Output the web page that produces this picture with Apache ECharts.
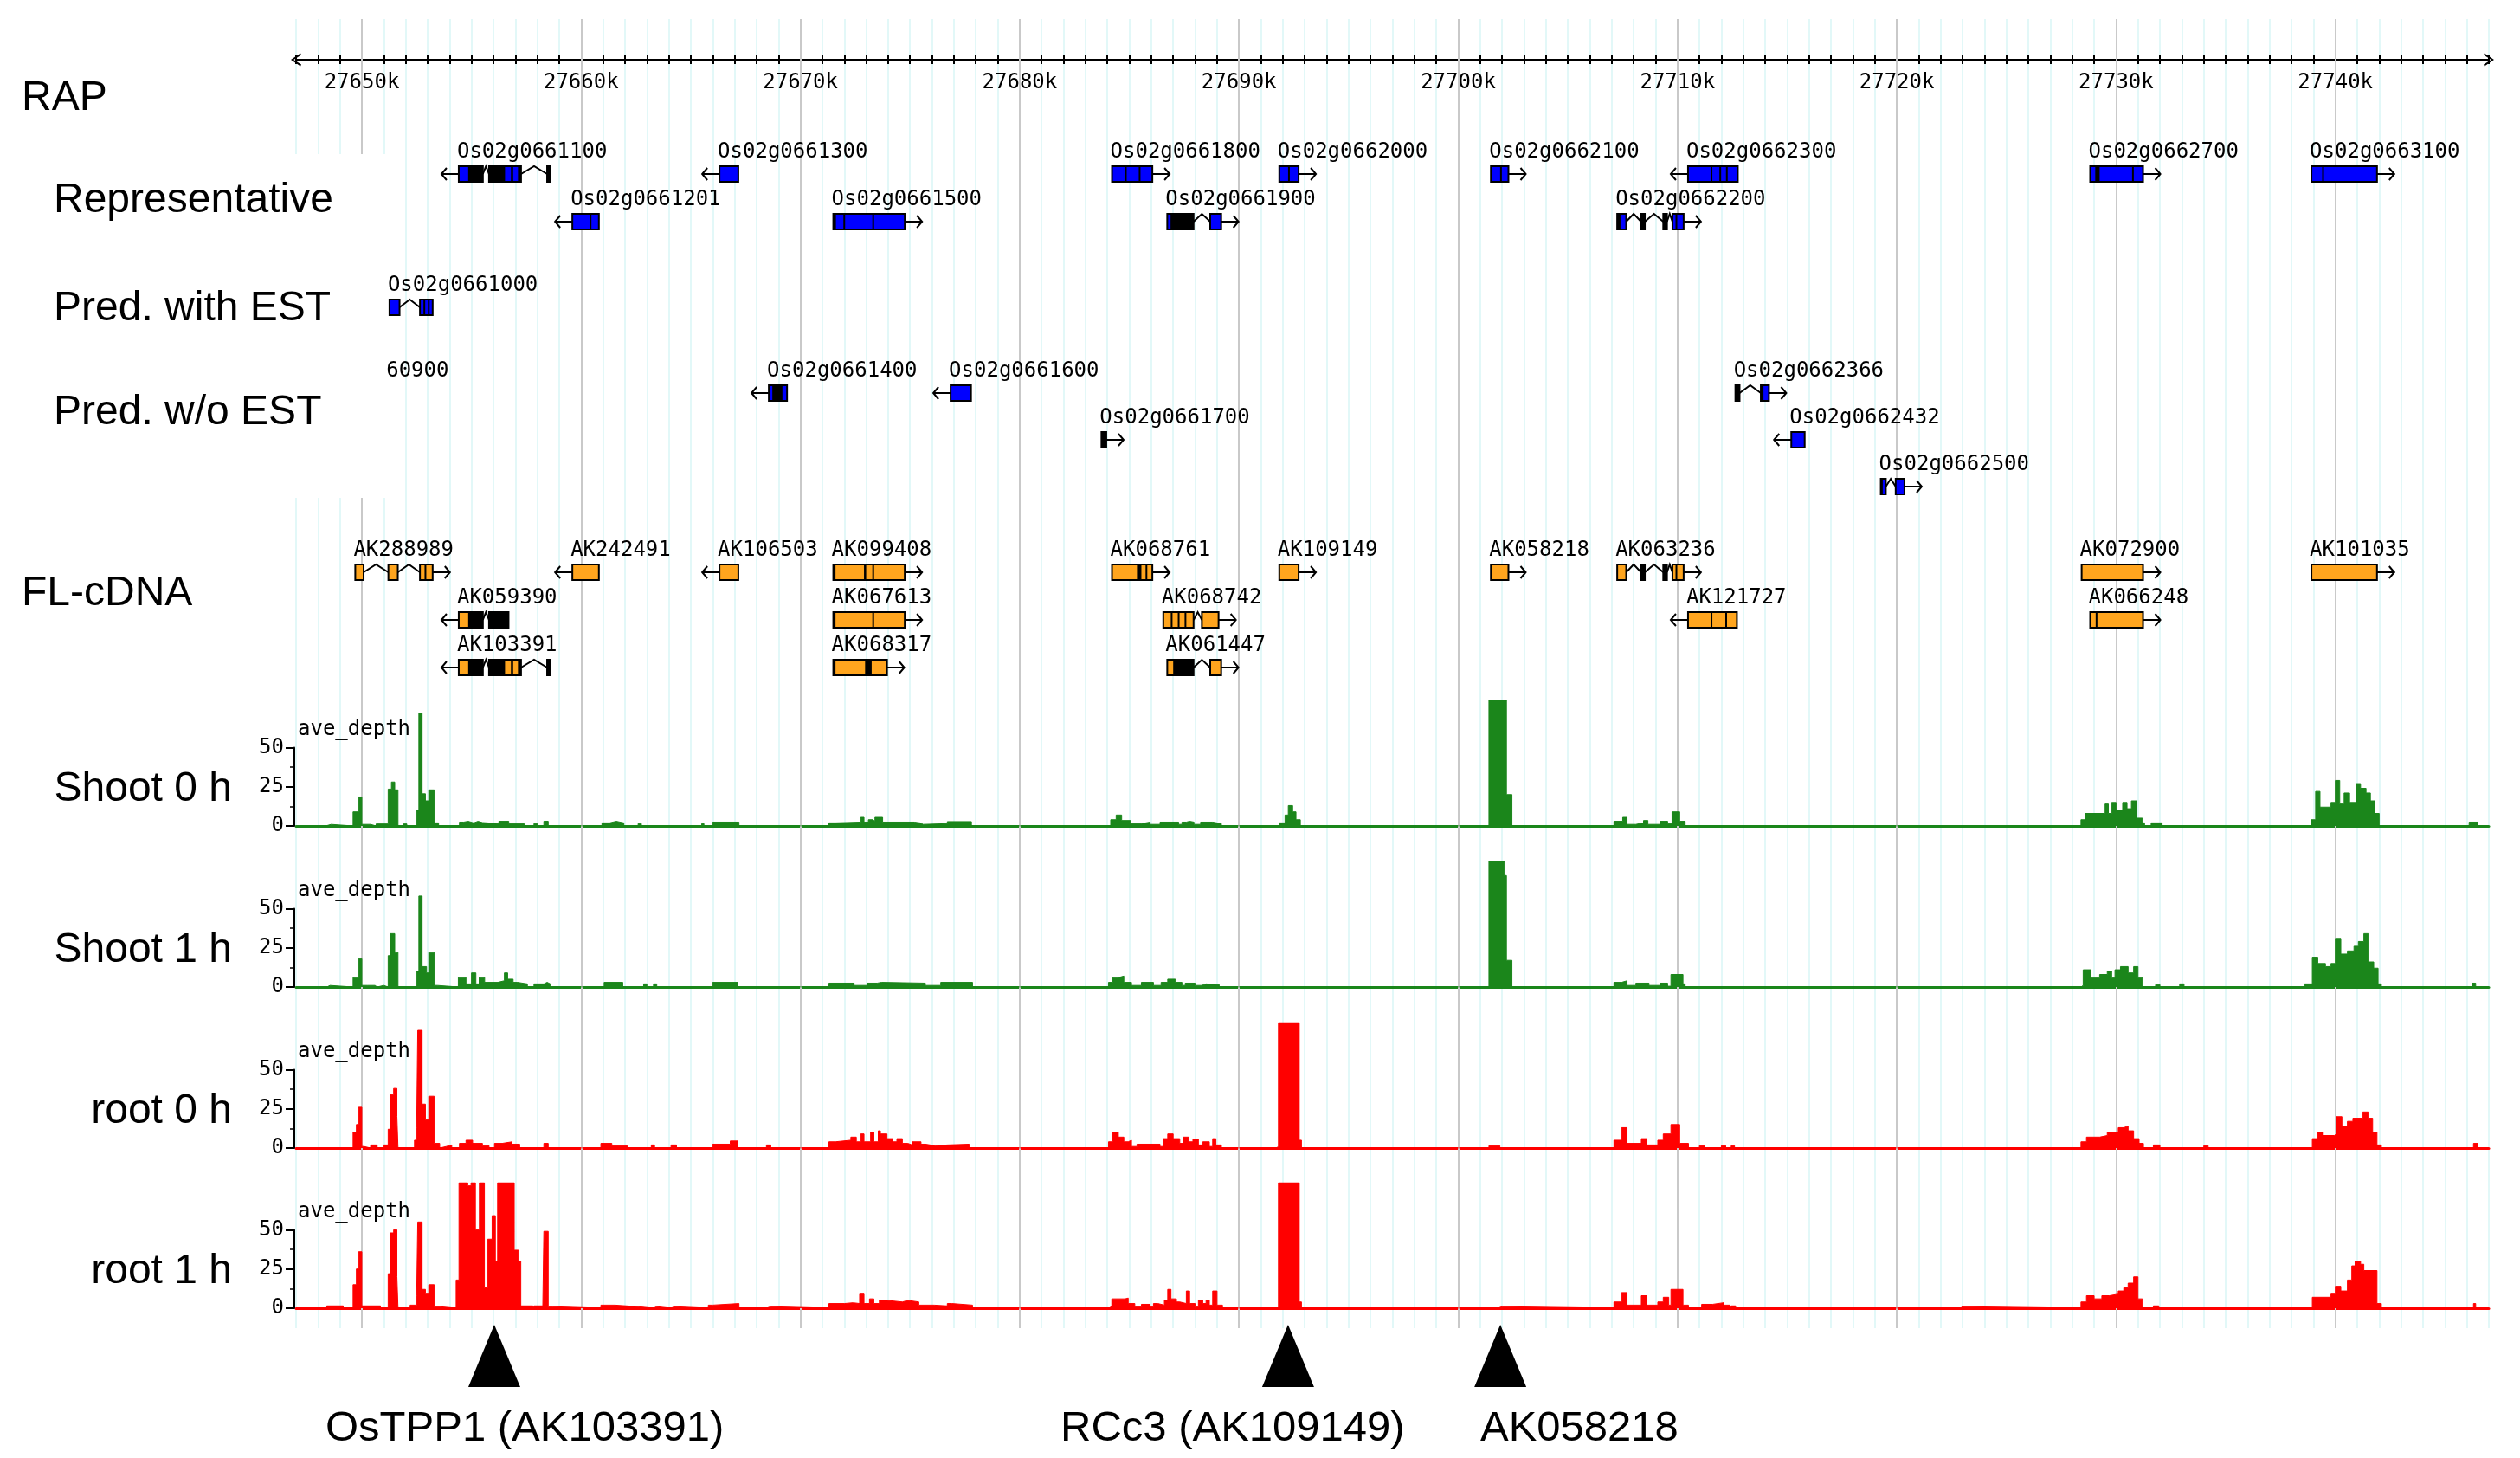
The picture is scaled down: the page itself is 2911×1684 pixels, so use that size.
<!DOCTYPE html>
<html><head><meta charset="utf-8">
<script src="https://cdn.jsdelivr.net/npm/echarts@6/dist/echarts.min.js"></script>
<style>html,body{margin:0;padding:0;background:#fff}#c{width:2911px;height:1684px}</style>
</head><body><div id="c"></div>
<script>
// ================= DATA =================
const viewStart = 27647, viewEnd = 27747;           // kb shown
const majorStep = 10;                                // kb between labelled ticks
const rulerTicks = [];
for (let k = viewStart; k <= viewEnd; k++) rulerTicks.push(k);

// genes: n name, s strand, r sub-row, ex exons [start,end] kb, dk dark (CDS) parts, ln divider lines, at label anchor
const repGenes = [
  {n:'Os02g0661100', s:-1, r:0, ex:[[27654.42,27655.52],[27655.80,27657.26],[27658.45,27658.57]], dk:[[27654.85,27655.52],[27655.80,27656.53],[27656.80,27656.90],[27657.12,27657.26],[27658.45,27658.57]]},
  {n:'Os02g0661300', s:-1, r:0, ex:[[27666.31,27667.17]]},
  {n:'Os02g0661800', s:1, r:0, ex:[[27684.21,27686.05]], ln:[27684.84,27685.47]},
  {n:'Os02g0662000', s:1, r:0, ex:[[27691.84,27692.72]], ln:[27692.28]},
  {n:'Os02g0662100', s:1, r:0, ex:[[27701.49,27702.29]], ln:[27701.95]},
  {n:'Os02g0662300', s:-1, r:0, ex:[[27710.48,27712.75]], ln:[27711.55,27711.95,27712.25]},
  {n:'Os02g0662700', s:1, r:0, ex:[[27728.82,27731.23]], dk:[[27729.05,27729.25]], ln:[27730.77]},
  {n:'Os02g0663100', s:1, r:0, ex:[[27738.91,27741.90]], ln:[27739.44]},
  {n:'Os02g0661201', s:-1, r:1, ex:[[27659.60,27660.81]], ln:[27660.43]},
  {n:'Os02g0661500', s:1, r:1, ex:[[27671.50,27674.76]], dk:[[27671.50,27671.62]], ln:[27672.0,27673.32]},
  {n:'Os02g0661900', s:1, r:1, ex:[[27686.73,27687.93],[27688.69,27689.19]], dk:[[27686.88,27687.93]]},
  {n:'Os02g0662200', s:1, r:1, ex:[[27707.25,27707.66],[27708.34,27708.51],[27709.35,27709.52],[27709.77,27710.28]], dk:[[27707.25,27707.40],[27708.34,27708.51],[27709.35,27709.52]], ln:[27709.95]}
];
const estGenes = [
  {n:'Os02g0661000', s:0, r:0, ex:[[27651.26,27651.72],[27652.65,27653.23]], ln:[27652.85,27653.05]}
];
const noEstGenes = [
  {n:'Os02g0660900', s:0, r:0, ex:[], at:27647.2},
  {n:'Os02g0661400', s:-1, r:0, ex:[[27668.56,27669.39]], dk:[[27668.72,27669.18]]},
  {n:'Os02g0661600', s:-1, r:0, ex:[[27676.85,27677.78]]},
  {n:'Os02g0662366', s:1, r:0, ex:[[27712.64,27712.83],[27713.80,27714.17]], dk:[[27712.64,27712.83],[27713.80,27713.92]]},
  {n:'Os02g0661700', s:1, r:1, ex:[[27683.73,27683.95]], dk:[[27683.73,27683.95]]},
  {n:'Os02g0662432', s:-1, r:1, ex:[[27715.19,27715.80]]},
  {n:'Os02g0662500', s:1, r:2, ex:[[27719.27,27719.50],[27719.95,27720.35]], dk:[[27719.27,27719.36]]}
];
const flGenes = [
  {n:'AK288989', s:1, r:0, ex:[[27649.70,27650.08],[27651.21,27651.64],[27652.65,27653.23]], ln:[27652.90]},
  {n:'AK242491', s:-1, r:0, ex:[[27659.60,27660.81]]},
  {n:'AK106503', s:-1, r:0, ex:[[27666.31,27667.17]]},
  {n:'AK099408', s:1, r:0, ex:[[27671.50,27674.76]], dk:[[27671.50,27671.60],[27672.90,27673.00]], ln:[27673.32]},
  {n:'AK068761', s:1, r:0, ex:[[27684.21,27686.05]], dk:[[27685.35,27685.55]], ln:[27685.78]},
  {n:'AK109149', s:1, r:0, ex:[[27691.84,27692.72]]},
  {n:'AK058218', s:1, r:0, ex:[[27701.49,27702.29]]},
  {n:'AK063236', s:1, r:0, ex:[[27707.25,27707.66],[27708.34,27708.51],[27709.35,27709.52],[27709.77,27710.28]], dk:[[27708.34,27708.51],[27709.35,27709.52]], ln:[27709.95]},
  {n:'AK072900', s:1, r:0, ex:[[27728.43,27731.23]]},
  {n:'AK101035', s:1, r:0, ex:[[27738.91,27741.90]]},
  {n:'AK059390', s:-1, r:1, ex:[[27654.42,27655.52],[27655.80,27656.69]], dk:[[27654.85,27655.52],[27655.80,27656.69]]},
  {n:'AK067613', s:1, r:1, ex:[[27671.50,27674.76]], dk:[[27671.50,27671.60]], ln:[27673.32]},
  {n:'AK068742', s:1, r:1, ex:[[27686.55,27687.93],[27688.31,27689.07]], ln:[27686.93,27687.25,27687.56]},
  {n:'AK121727', s:-1, r:1, ex:[[27710.48,27712.71]], ln:[27711.55,27712.22]},
  {n:'AK066248', s:1, r:1, ex:[[27728.82,27731.23]], ln:[27729.11]},
  {n:'AK103391', s:-1, r:2, ex:[[27654.42,27655.52],[27655.80,27657.26],[27658.45,27658.57]], dk:[[27654.85,27655.52],[27655.80,27656.53],[27656.80,27656.90],[27657.12,27657.26],[27658.45,27658.57]]},
  {n:'AK068317', s:1, r:2, ex:[[27671.50,27673.95]], dk:[[27671.50,27671.60],[27672.95,27673.25]]},
  {n:'AK061447', s:1, r:2, ex:[[27686.73,27687.93],[27688.69,27689.19]], dk:[[27687.00,27687.93]]}
];

// coverage (ave_depth): [position kb, value held until next position]
const shoot0h = [
  [27648.35,1],[27648.6,0],
  [27649.6,9],[27649.85,18.5],[27650.0,1],[27650.4,0],
  [27650.65,1.3],[27651.2,23.5],[27651.35,28],[27651.5,23],[27651.65,0],
  [27651.9,1.3],[27652.05,0],
  [27652.5,10],[27652.6,72],[27652.75,20.5],[27652.9,16],[27653.05,23],[27653.3,2],[27653.5,0],
  [27654.45,2.5],[27654.65,3],[27654.85,2],[27655.1,3],[27655.3,2.2],[27655.5,1.5],[27656.25,3],[27656.7,1.5],[27657.4,0],
  [27657.85,1.5],[27658.0,0],[27658.3,3],[27658.5,0],
  [27660.95,2],[27661.3,3],[27661.6,2],[27661.95,0],
  [27662.6,1.5],[27662.75,0],[27665.5,1.5],[27665.6,0],[27666.0,2.5],[27667.2,0],
  [27671.3,2],[27671.6,2.5],[27672.75,5.5],[27672.9,2.5],[27673.1,4],[27673.3,3],[27673.4,5.5],[27673.75,2.5],[27675.2,2],[27675.45,1],[27675.6,1.5],[27676.7,2.8],[27677.8,0],
  [27684.15,4],[27684.4,7],[27684.65,3.5],[27685.05,1.5],[27685.55,2.5],[27685.95,1],[27686.4,2.5],[27687.25,1],[27687.4,2.5],[27687.6,3],[27687.75,2.5],[27687.95,1],[27688.25,2.5],[27688.8,1.5],[27689.2,0],
  [27691.85,2],[27692.1,7],[27692.25,13],[27692.45,9],[27692.6,4],[27692.8,0],
  [27701.4,80],[27702.2,20],[27702.45,0],
  [27707.1,3],[27707.5,5.5],[27707.7,1],[27708.1,2],[27708.45,3.5],[27708.65,1],[27709.2,3],[27709.55,1.5],[27709.75,9],[27710.1,3],[27710.35,0],
  [27728.4,4],[27728.6,8],[27729.5,14],[27729.65,8],[27729.8,15],[27730.0,10],[27730.3,15],[27730.5,11],[27730.7,16],[27730.95,5],[27731.2,2],[27731.3,0],[27731.6,2],[27732.1,0],
  [27738.9,4],[27739.1,22],[27739.3,12],[27739.8,15],[27740.0,29],[27740.2,14],[27740.4,21],[27740.65,15],[27740.95,27],[27741.15,24],[27741.4,21],[27741.6,16],[27741.8,8],[27742.0,0],
  [27746.1,2.5],[27746.5,0]
];
const shoot1h = [
  [27648.4,1],[27648.55,0],
  [27649.6,6],[27649.85,18],[27650.0,1],[27650.25,0],[27650.3,1],[27650.6,0],[27650.7,1],[27651.0,0],
  [27651.2,20],[27651.3,34],[27651.5,22],[27651.65,0],
  [27652.5,10],[27652.6,58],[27652.75,13],[27652.95,9],[27653.05,22],[27653.3,1],[27653.45,0],
  [27654.4,6],[27654.75,2],[27655.0,9],[27655.2,2],[27655.35,6],[27655.6,3],[27656.2,4],[27656.5,9],[27656.65,5],[27656.9,3],[27657.1,2],[27657.55,0],
  [27657.85,2],[27658.3,3],[27658.45,2],[27658.6,0],
  [27661.05,3],[27661.9,0],
  [27662.85,2],[27663.0,0],[27663.3,2],[27663.45,0],
  [27666.0,3],[27667.15,0],
  [27671.3,2.5],[27672.45,1],[27673.05,2.5],[27673.5,3],[27673.7,2.5],[27675.7,1],[27676.4,3],[27677.85,0],
  [27684.05,3],[27684.25,6],[27684.5,7],[27684.75,3],[27685.1,1],[27685.55,3],[27686.1,1],[27686.45,3],[27686.75,5],[27687.1,3],[27687.4,1],[27687.55,2.5],[27688.0,1],[27688.3,2],[27688.5,1.5],[27689.1,0],
  [27701.4,80],[27702.1,71],[27702.2,17],[27702.45,0],
  [27707.1,3],[27707.45,4],[27707.7,1],[27708.1,2.5],[27708.7,1],[27709.2,2.5],[27709.55,0.5],[27709.7,8],[27710.25,2],[27710.35,0],
  [27728.4,1],[27728.5,11],[27728.85,6],[27729.25,8],[27729.6,10],[27729.8,6],[27729.95,11],[27730.2,13],[27730.55,9],[27730.8,13],[27731.0,6],[27731.2,0],[27731.8,1.5],[27732.0,0],[27732.9,2],[27733.1,0],
  [27738.6,2],[27738.95,19],[27739.2,15],[27739.55,13],[27739.8,15],[27740.0,31],[27740.25,21],[27740.55,23],[27740.85,26],[27741.05,29],[27741.3,34],[27741.5,16],[27741.75,12],[27741.95,2],[27742.1,0],
  [27746.25,2.5],[27746.4,0]
];
const root0h = [
  [27649.6,10],[27649.75,15],[27649.85,26],[27650.0,1],[27650.1,0],
  [27650.4,2],[27650.7,0],[27651.0,2],[27651.2,12],[27651.3,34],[27651.45,38],[27651.6,20],[27651.65,0],
  [27652.4,5],[27652.5,13],[27652.55,75],[27652.75,28],[27652.9,18],[27653.05,33],[27653.3,3],[27653.55,0],
  [27653.6,1],[27653.85,2],[27654.1,0],[27654.45,3],[27654.75,5],[27655.05,3],[27655.5,1.5],[27655.8,0],[27656.05,3],[27656.4,4],[27656.85,2.5],[27657.2,0],
  [27658.3,3],[27658.5,0],
  [27660.9,3],[27661.4,1.5],[27662.1,0],
  [27663.2,2],[27663.35,0],[27664.1,2],[27664.35,0],
  [27666.0,2.5],[27666.8,4.5],[27667.15,0],
  [27668.45,2],[27668.65,0],
  [27671.3,4],[27671.6,5],[27672.3,7],[27672.55,4],[27672.75,9],[27672.9,4],[27673.2,10],[27673.35,4],[27673.55,11],[27673.65,9],[27673.95,6],[27674.2,4],[27674.4,6],[27674.65,3],[27674.9,2],[27675.1,4],[27675.5,2.5],[27675.7,1.5],[27676.15,2],[27676.7,2.5],[27677.7,0],
  [27684.05,4],[27684.25,10],[27684.5,7],[27684.75,4],[27684.95,5],[27685.1,1],[27685.35,2.5],[27686.4,1],[27686.55,6],[27686.75,9],[27687.0,6],[27687.3,3],[27687.45,7],[27687.7,4],[27687.9,5.5],[27688.15,2],[27688.35,4],[27688.65,1],[27688.8,6],[27688.95,2],[27689.2,0],
  [27691.7,1],[27691.8,80],[27692.75,5],[27692.85,0],
  [27701.4,1.5],[27701.9,0],
  [27707.1,5],[27707.45,13],[27707.7,3],[27708.35,6],[27708.6,2],[27709.1,5],[27709.35,9],[27709.7,15],[27710.1,3],[27710.5,0],
  [27711.0,1.5],[27711.25,0],[27712.0,1.5],[27712.2,0],[27712.45,1.5],[27712.6,0],
  [27728.4,4],[27728.65,7],[27729.25,8],[27729.6,10],[27730.1,13],[27730.35,14],[27730.55,11],[27730.8,6],[27731.05,3],[27731.25,0],[27731.7,2],[27732.0,0],[27734.0,1.5],[27734.2,0],
  [27738.95,6],[27739.2,10],[27739.45,8],[27739.95,9],[27740.05,20],[27740.3,14],[27740.55,17],[27740.8,19],[27741.25,23],[27741.5,19],[27741.7,10],[27741.9,2],[27742.1,0],
  [27746.3,3],[27746.5,0]
];
const root1h = [
  [27648.4,1.5],[27649.15,0],[27649.6,15],[27649.75,25],[27649.85,36],[27650.0,1.5],[27650.85,0],
  [27651.2,22],[27651.3,48],[27651.45,50],[27651.6,20],[27651.65,0],
  [27652.2,2],[27652.5,8],[27652.55,55],[27652.75,12],[27652.9,9],[27653.05,15],[27653.3,1],[27653.55,0],
  [27654.3,18],[27654.43,80],[27654.83,78],[27654.98,80],[27655.18,50],[27655.36,80],[27655.59,13],[27655.74,44],[27655.94,59],[27656.09,30],[27656.19,80],[27656.95,37],[27657.14,30],[27657.25,1.5],[27657.8,0],
  [27657.85,1.5],[27658.25,0],[27658.3,49],[27658.5,1],[27658.7,0],
  [27660.9,2],[27661.55,1],[27662.6,0],[27663.3,1],[27663.45,0],[27664.1,1],[27664.25,0],[27665.8,2],[27666.0,3],[27667.2,0],[27668.45,1],[27668.65,0],
  [27671.3,3],[27672.0,3.5],[27672.4,3],[27672.7,9],[27672.9,3],[27673.15,6],[27673.35,3],[27673.6,5],[27673.95,4],[27674.65,5],[27674.9,4],[27675.4,2],[27676.1,1.5],[27676.7,3],[27676.9,2],[27677.85,0],
  [27684.05,1],[27684.2,6],[27684.8,6.5],[27684.95,3],[27685.25,1],[27685.55,2.5],[27685.95,1],[27686.1,3],[27686.3,2],[27686.6,5],[27686.75,12],[27686.9,6],[27687.15,4],[27687.3,3],[27687.6,11],[27687.75,3],[27688.0,1],[27688.15,5],[27688.35,3],[27688.5,5],[27688.65,2],[27688.8,11],[27689.0,2],[27689.25,0],
  [27691.8,80],[27692.75,4],[27692.85,0],
  [27701.8,1],[27702.0,0],
  [27707.1,4],[27707.45,10],[27707.7,2],[27708.35,8],[27708.6,2],[27709.1,4],[27709.35,7],[27709.6,2],[27709.7,12],[27710.25,2],[27710.5,0],
  [27711.1,2.5],[27711.6,3.5],[27712.1,2],[27712.4,0],[27712.45,1.5],[27712.65,0],
  [27722.9,1],[27723.0,0],
  [27728.4,4],[27728.65,8],[27729.0,6],[27729.35,8],[27729.7,9],[27730.1,11],[27730.35,13],[27730.55,16],[27730.8,20],[27731.0,6],[27731.2,0],[27731.7,1.5],[27731.95,0],
  [27738.95,7],[27739.8,9],[27740.0,14],[27740.25,11],[27740.55,18],[27740.75,27],[27740.9,30],[27741.15,28],[27741.3,24],[27741.9,3],[27742.1,0],
  [27746.3,3],[27746.4,0]
];
const coverageTracks = [
  {name:'Shoot 0 h', data:shoot0h},
  {name:'Shoot 1 h', data:shoot1h},
  {name:'root 0 h', data:root0h},
  {name:'root 1 h', data:root1h}
];
const depthTicks = [0, 25, 50];
const markers = [[27656.04, 'OsTPP1 (AK103391)'], [27692.24, 'RCc3 (AK109149)'], [27701.92, 'AK058218']];

// ================= LAYOUT / STYLE =================
const L = {
  left: 342, width: 2533,
  bgTop: 22, bgH: 1512,
  rulerTop: 22, rulerH: 47,
  geneTop: 150, geneH: 650,
  rows: {rep:[201,256], est:[355], noest:[454,508,562], fl:[661,716,771]},
  boxH: 18, labelDy: -25, arrowLen: 20,
  baselines: [954, 1140, 1326, 1511], trackH: 145, yMax: 80, scaleMax: 50,
  markTop: 1530, markH: 72,
  trackLabels: [
    {t:'RAP', x:25, y:114, a:'left'},
    {t:'Representative', x:62, y:232, a:'left'},
    {t:'Pred. with EST', x:62, y:357, a:'left'},
    {t:'Pred. w/o EST', x:62, y:477, a:'left'},
    {t:'FL-cDNA', x:25, y:686, a:'left'}
  ],
  covLabelX: 268, covLabelDy: -42,
  markLabelX: [376, 1225, 1710], markLabelY: 1650
};
const MONO = '"DejaVu Sans Mono", monospace';
const SANS = '"Liberation Sans", Arial, sans-serif';
const BLUE = '#0000ff', ORANGE = '#ffa51e', GREEN = '#1b861b', RED = '#ff0000';
const covColors = [GREEN, GREEN, RED, RED];

// ================= BUILD =================
const isMajor = (i, v) => Number(v) % majorStep === 0;
const arrowPath = 'path://M0,12 L8,0 L16,12 L14,13 L8,3.5 L2,13 Z';

const grid = [], xAxis = [], yAxis = [], series = [];
const hiddenY = (gi) => ({type:'value', gridIndex:gi, min:0, max:1, show:false});

// grid 0 : background vertical lines
grid.push({left:L.left, width:L.width, top:L.bgTop, height:L.bgH});
xAxis.push({type:'category', gridIndex:0, data:rulerTicks, boundaryGap:false, axisLine:{show:false, onZero:false}, axisTick:{show:false}, axisLabel:{show:false},
  splitLine:{show:true, interval:0, lineStyle:{color:'#d8f6f6', width:1.5}}});
xAxis.push({type:'category', gridIndex:0, data:rulerTicks, boundaryGap:false, z:1, axisLine:{show:false, onZero:false}, axisTick:{show:false}, axisLabel:{show:false},
  splitLine:{show:true, interval:isMajor, lineStyle:{color:'#c9c9c9', width:2}}});
yAxis.push(hiddenY(0));

// grid 1 : ruler
grid.push({left:L.left, width:L.width, top:L.rulerTop, height:L.rulerH});
const rulerBase = {type:'category', gridIndex:1, data:rulerTicks, boundaryGap:false, position:'bottom', splitLine:{show:false}, axisLabel:{show:false}};
xAxis.push(Object.assign({}, rulerBase, {axisLine:{show:true, onZero:false, symbol:[arrowPath, arrowPath], symbolSize:[16,12], lineStyle:{color:'#000', width:2}},
  axisTick:{show:true, interval:0, inside:true, length:5, lineStyle:{color:'#000', width:2}}}));
xAxis.push(Object.assign({}, rulerBase, {axisLine:{show:false, onZero:false}, axisTick:{show:true, interval:0, inside:false, length:5, lineStyle:{color:'#000', width:2}}}));
xAxis.push(Object.assign({}, rulerBase, {axisLine:{show:false, onZero:false}, axisTick:{show:true, interval:isMajor, inside:true, length:9, lineStyle:{color:'#000', width:2}}}));
xAxis.push(Object.assign({}, rulerBase, {axisLine:{show:false, onZero:false}, axisTick:{show:true, interval:isMajor, inside:false, length:8, lineStyle:{color:'#000', width:2}},
  axisLabel:{show:true, interval:isMajor, formatter:v => v + 'k', margin:15, color:'#000', fontFamily:MONO, fontSize:24}}));
yAxis.push(hiddenY(1));

// grid 2 : gene tracks (y axis maps page rows)
grid.push({left:L.left, width:L.width, top:L.geneTop, height:L.geneH});
xAxis.push({type:'value', gridIndex:2, min:viewStart, max:viewEnd, show:false});
yAxis.push({type:'value', gridIndex:2, min:L.geneTop, max:L.geneTop + L.geneH, inverse:true, show:false});
const geneXAxis = xAxis.length - 1, geneYAxis = yAxis.length - 1;

function geneRender(list, rowsY, fill) {
  return function (params, api) {
    const g = list[params.dataIndex];
    const yRow = rowsY[g.r];
    const X = kb => api.coord([kb, yRow])[0];
    const yc = api.coord([viewStart, yRow])[1];
    const h = L.boxH, top = yc - h / 2;
    const ch = [];
    const ex = g.ex || [];
    for (let i = 0; i < ex.length - 1; i++) {
      const a = X(ex[i][1]), b = X(ex[i + 1][0]);
      ch.push({type:'polyline', shape:{points:[[a, yc], [(a + b) / 2, top], [b, yc]]}, style:{stroke:'#000', lineWidth:2, fill:'none'}});
    }
    if (ex.length && g.s) {
      const x0 = g.s > 0 ? X(ex[ex.length - 1][1]) : X(ex[0][0]);
      const tip = x0 + g.s * L.arrowLen;
      ch.push({type:'line', shape:{x1:x0, y1:yc, x2:tip, y2:yc}, style:{stroke:'#000', lineWidth:2}});
      ch.push({type:'polyline', shape:{points:[[tip - g.s * 6, yc - 7], [tip, yc], [tip - g.s * 6, yc + 7]]}, style:{stroke:'#000', lineWidth:2, fill:'none'}});
    }
    ex.forEach(e => {
      const a = X(e[0]), b = X(e[1]);
      ch.push({type:'rect', shape:{x:a, y:top, width:Math.max(b - a, 2), height:h}, style:{fill:fill, stroke:'#000', lineWidth:2}});
    });
    (g.dk || []).forEach(e => {
      const a = X(e[0]), b = X(e[1]);
      ch.push({type:'rect', shape:{x:a, y:top, width:Math.max(b - a, 2), height:h}, style:{fill:'#000'}});
    });
    (g.ln || []).forEach(p => {
      const x = X(p);
      ch.push({type:'line', shape:{x1:x, y1:top, x2:x, y2:top + h}, style:{stroke:'#000', lineWidth:2}});
    });
    const lx = X(g.at != null ? g.at : ex[0][0]) - 2;
    ch.push({type:'text', x:lx, y:yc + L.labelDy, style:{text:g.n, fill:'#000', font:'24px ' + MONO, align:'left', verticalAlign:'middle'}});
    return {type:'group', children:ch};
  };
}
function geneData(list) {
  return list.map(g => {
    const xs = g.ex.length ? g.ex.flat() : [g.at];
    return [Math.min.apply(null, xs), Math.max.apply(null, xs), g.r];
  });
}
[[repGenes, L.rows.rep, BLUE], [estGenes, L.rows.est, BLUE], [noEstGenes, L.rows.noest, BLUE], [flGenes, L.rows.fl, ORANGE]].forEach(t => {
  series.push({type:'custom', xAxisIndex:geneXAxis, yAxisIndex:geneYAxis, renderItem:geneRender(t[0], t[1], t[2]),
    data:geneData(t[0]), encode:{x:[0, 1]}, silent:true, z:3});
});

// coverage tracks
const pxPerUnit = L.trackH / L.yMax;
coverageTracks.forEach((trk, i) => {
  const base = L.baselines[i];
  const gi = grid.length;
  grid.push({left:L.left, width:L.width, top:base - L.trackH, height:L.trackH});
  xAxis.push({type:'value', gridIndex:gi, min:viewStart, max:viewEnd, axisLine:{show:true, onZero:false, lineStyle:{color:covColors[i], width:3}},
    axisTick:{show:false}, axisLabel:{show:false}, splitLine:{show:false}});
  yAxis.push({type:'value', gridIndex:gi, min:0, max:L.yMax, show:false});
  const data = [[viewStart, 0]].concat(trk.data, [[viewEnd, 0]]);
  series.push({type:'line', xAxisIndex:xAxis.length - 1, yAxisIndex:yAxis.length - 1, data:data, step:'end', showSymbol:false, silent:true,
    lineStyle:{color:covColors[i], width:1}, areaStyle:{color:covColors[i], opacity:1}, z:3, animation:false});
});
// scale axes for coverage (0-50)
coverageTracks.forEach((trk, i) => {
  const base = L.baselines[i];
  const gi = grid.length;
  const h = L.scaleMax * pxPerUnit;
  grid.push({left:L.left - 2, width:4, top:base - h, height:h});
  xAxis.push({type:'value', gridIndex:gi, min:0, max:1, show:false});
  yAxis.push({type:'value', gridIndex:gi, min:depthTicks[0], max:depthTicks[depthTicks.length - 1], interval:depthTicks[1] - depthTicks[0], position:'left',
    axisLine:{show:true, lineStyle:{color:'#000', width:2}},
    axisTick:{show:true, length:10, lineStyle:{color:'#000', width:2}},
    minorTick:{show:true, splitNumber:2, length:5, lineStyle:{color:'#000', width:1.5}},
    axisLabel:{show:true, margin:12, color:'#000', fontFamily:MONO, fontSize:24},
    splitLine:{show:false},
    name:'ave_depth', nameLocation:'end', nameGap:21,
    nameTextStyle:{align:'left', verticalAlign:'middle', color:'#000', fontFamily:MONO, fontSize:24, padding:[0, 0, 0, 4]}, z:5});
});
// markers (triangles)
{
  const gi = grid.length;
  grid.push({left:L.left, width:L.width, top:L.markTop, height:L.markH});
  xAxis.push({type:'value', gridIndex:gi, min:viewStart, max:viewEnd, show:false});
  yAxis.push({type:'value', gridIndex:gi, min:0, max:1, show:false});
  series.push({type:'scatter', xAxisIndex:xAxis.length - 1, yAxisIndex:yAxis.length - 1, data:markers.map(m => [m[0], 0.5]),
    symbol:'triangle', symbolSize:[60, L.markH], itemStyle:{color:'#000', opacity:1}, silent:true, z:3, animation:false});
}

// graphic: mask + texts
const gfx = [];
gfx.push({type:'rect', shape:{x:0, y:178, width:446, height:397}, style:{fill:'#fff'}, z:50, silent:true});
L.trackLabels.forEach(t => gfx.push({type:'text', x:t.x, y:t.y, z:60, silent:true,
  style:{text:t.t, font:'48px ' + SANS, fill:'#000', align:t.a, verticalAlign:'middle'}}));
coverageTracks.forEach((t, i) => gfx.push({type:'text', x:L.covLabelX, y:L.baselines[i] + L.covLabelDy, z:60, silent:true,
  style:{text:t.name, font:'48px ' + SANS, fill:'#000', align:'right', verticalAlign:'middle'}}));
markers.forEach((m, i) => gfx.push({type:'text', x:L.markLabelX[i], y:L.markLabelY, z:60, silent:true,
  style:{text:m[1], font:'49px ' + SANS, fill:'#000', align:'left', verticalAlign:'middle'}}));

const chart = echarts.init(document.getElementById('c'), null, {width:2911, height:1684});
chart.setOption({
  backgroundColor:'#fff', animation:false,
  grid:grid, xAxis:xAxis, yAxis:yAxis, series:series,
  graphic:{elements:gfx}
});
</script></body></html>
